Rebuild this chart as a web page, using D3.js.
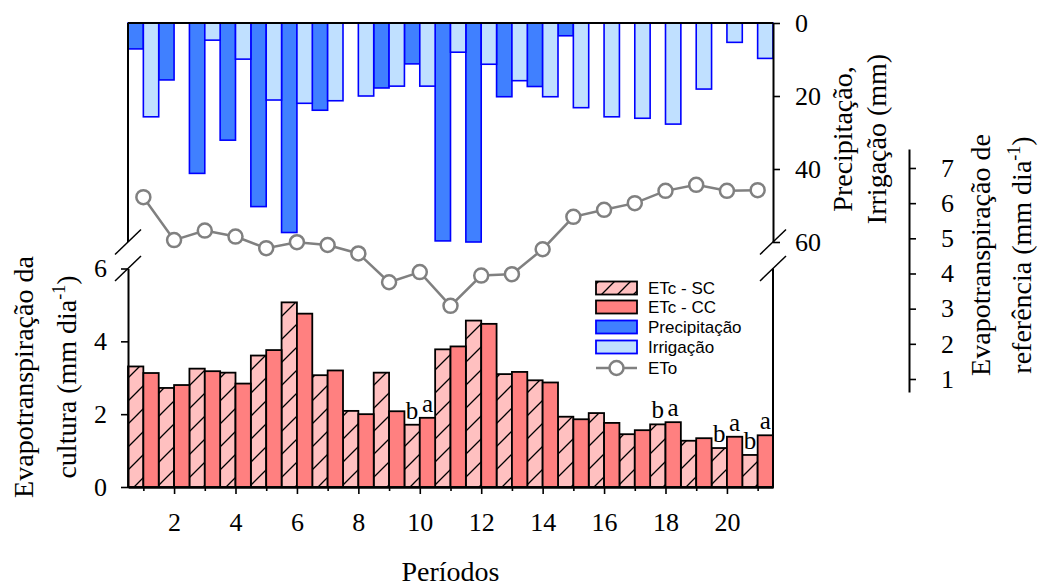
<!DOCTYPE html>
<html>
<head>
<meta charset="utf-8">
<script src="https://cdn.jsdelivr.net/npm/d3@7"></script>
<style>
  body { margin: 0; background: #fff; }
  svg text { font-family: "Liberation Serif", "Times New Roman", serif; fill: #000; }
  .legend text { font-family: "Liberation Sans", Arial, sans-serif; font-size: 17px; }
</style>
</head>
<body>
<div id="chart"></div>
<script>
// dados
const periods = d3.range(1, 22);
const precipitacao = [7.1, 15.6, 41.2, 32.1, 50.3, 57.4, 23.9, 0, 17.8, 11.2, 59.7, 60, 20.2, 17.4, 3.5, 0, 0, 0, 0, 0, 0];
const irrigacao = [25.7, 0, 4.7, 9.9, 21.1, 22.0, 21.3, 20.0, 17.3, 17.3, 8.0, 11.3, 15.8, 20.2, 23.2, 25.7, 26.1, 27.7, 18.1, 5.3, 9.7];
const eto = [6.17, 4.95, 5.22, 5.05, 4.72, 4.89, 4.81, 4.57, 3.75, 4.04, 3.08, 3.94, 3.98, 4.69, 5.61, 5.81, 6.0, 6.35, 6.52, 6.35, 6.37];
const etcSC = [3.31, 2.72, 3.25, 3.14, 3.61, 5.07, 3.07, 2.09, 3.14, 1.71, 3.78, 4.57, 3.10, 2.93, 1.93, 2.03, 1.45, 1.72, 1.27, 1.07, 0.88];
const etcCC = [3.13, 2.80, 3.18, 2.84, 3.76, 4.76, 3.20, 2.00, 2.08, 1.90, 3.86, 4.48, 3.16, 2.87, 1.86, 1.76, 1.56, 1.78, 1.34, 1.38, 1.42];
const letterPeriods = [10, 18, 20, 21];
const xTickLabels = [2, 4, 6, 8, 10, 12, 14, 16, 18, 20];
const rainTicks = [0, 20, 40, 60];
const etcTicks = [0, 2, 4, 6];
const etoTicks = [1, 2, 3, 4, 5, 6, 7];
const legendLabels = ['ETc - SC', 'ETc - CC', 'Precipitação', 'Irrigação', 'ETo'];

const width = 1040;
const height = 586;
const left = 128, right = 773;

const svg = d3.select('#chart').append('svg')
    .attr('width', width)
    .attr('height', height);

const x = d3.scaleLinear().domain([0.5, 21.5]).range([left, right]);
const yRain = d3.scaleLinear().domain([0, 60]).range([23, 242]);
const yEtc = d3.scaleLinear().domain([0, 6]).range([487, 268.5]);
const yEto = d3.scaleLinear().domain([0.63, 7.54]).range([392, 149]);

const colors = {
    sc: '#FFC0C0', cc: '#FF8080', rain: '#4080FF', irr: '#C0E0FF', blue: '#0000FF', eto: '#808080'
};

// hachura
const defs = svg.append('defs');
function hatch(id, s) {
    const p = defs.append('pattern')
        .attr('id', id)
        .attr('patternUnits', 'userSpaceOnUse')
        .attr('width', s).attr('height', s);
    p.append('rect').attr('width', s).attr('height', s).attr('fill', colors.sc);
    p.append('path')
        .attr('d', `M0,${s} L${s},0 M${-s / 2},${s / 2} L${s / 2},${-s / 2} M${s / 2},${s * 1.5} L${s * 1.5},${s / 2}`)
        .attr('stroke', '#000').attr('stroke-width', 1.3);
}
hatch('hatchBar', 23);
hatch('hatchLeg', 16);

// barras de cima
const rainData = periods.map((p, i) => ({ p, v: precipitacao[i] })).filter(d => d.v > 0);
const irrData = periods.map((p, i) => ({ p, v: irrigacao[i] })).filter(d => d.v > 0);

svg.selectAll('.rain').data(rainData).enter().append('rect')
    .attr('x', d => x(d.p - 0.5))
    .attr('y', yRain(0))
    .attr('width', d => x(d.p) - x(d.p - 0.5))
    .attr('height', d => yRain(d.v) - yRain(0))
    .attr('fill', colors.rain).attr('stroke', colors.blue).attr('stroke-width', 1.6);

svg.selectAll('.irr').data(irrData).enter().append('rect')
    .attr('x', d => x(d.p))
    .attr('y', yRain(0))
    .attr('width', d => x(d.p + 0.5) - x(d.p))
    .attr('height', d => yRain(d.v) - yRain(0))
    .attr('fill', colors.irr).attr('stroke', colors.blue).attr('stroke-width', 1.6);

// barras de baixo
svg.selectAll('.sc').data(periods).enter().append('rect')
    .attr('x', p => x(p - 0.5))
    .attr('y', (p, i) => yEtc(etcSC[i]))
    .attr('width', p => x(p) - x(p - 0.5))
    .attr('height', (p, i) => yEtc(0) - yEtc(etcSC[i]))
    .attr('fill', 'url(#hatchBar)').attr('stroke', '#000').attr('stroke-width', 1.8);

svg.selectAll('.cc').data(periods).enter().append('rect')
    .attr('x', p => x(p))
    .attr('y', (p, i) => yEtc(etcCC[i]))
    .attr('width', p => x(p + 0.5) - x(p))
    .attr('height', (p, i) => yEtc(0) - yEtc(etcCC[i]))
    .attr('fill', colors.cc).attr('stroke', '#000').attr('stroke-width', 1.8);

// letras
letterPeriods.forEach(p => {
    const i = p - 1;
    svg.append('text')
        .attr('x', x(p - 0.25)).attr('y', yEtc(etcSC[i]) - 6)
        .attr('text-anchor', 'middle').style('font-size', '25px').text('b');
    svg.append('text')
        .attr('x', x(p + 0.25)).attr('y', yEtc(etcCC[i]) - 6)
        .attr('text-anchor', 'middle').style('font-size', '25px').text('a');
});

// ETo
svg.append('path')
    .datum(eto)
    .attr('fill', 'none').attr('stroke', colors.eto).attr('stroke-width', 2.5)
    .attr('d', d3.line().x((d, i) => x(periods[i])).y(d => yEto(d)));

svg.selectAll('.eto').data(eto).enter().append('circle')
    .attr('cx', (d, i) => x(periods[i]))
    .attr('cy', d => yEto(d))
    .attr('r', 7)
    .attr('fill', '#fff').attr('stroke', colors.eto).attr('stroke-width', 2.5);

// eixos
function styleAxis(g) {
    g.attr('font-family', null).attr('font-size', null);
    g.select('.domain').attr('stroke', '#000').attr('stroke-width', 2);
    g.selectAll('.tick line').attr('stroke', '#000').attr('stroke-width', 1.6);
    g.selectAll('.tick text')
        .attr('fill', '#000')
        .style('font-family', '"Liberation Serif", "Times New Roman", serif')
        .style('font-size', '26px');
}

const fmt = d3.format('d');

const frame = svg.append('g').attr('stroke', '#000').attr('stroke-width', 2);
frame.append('line').attr('x1', left).attr('x2', right).attr('y1', yRain(0)).attr('y2', yRain(0));
frame.append('line').attr('x1', left).attr('x2', left).attr('y1', yRain(0)).attr('y2', yRain(60));
frame.append('line').attr('x1', right).attr('x2', right).attr('y1', yEtc(6)).attr('y2', yEtc(0));

svg.append('g')
    .attr('transform', `translate(${right},0)`)
    .call(d3.axisRight(yRain).tickValues(rainTicks).tickFormat(fmt).tickSize(7).tickSizeOuter(0).tickPadding(15))
    .call(styleAxis);

svg.append('g')
    .attr('transform', `translate(${left},0)`)
    .call(d3.axisLeft(yEtc).tickValues(etcTicks).tickFormat(fmt).tickSize(7).tickSizeOuter(0).tickPadding(14))
    .call(styleAxis);

svg.append('g')
    .attr('transform', `translate(0,${yEtc(0)})`)
    .call(d3.axisBottom(x).tickValues(periods.filter(p => p % 2 === 1)).tickSize(4).tickSizeOuter(0).tickFormat(''))
    .call(styleAxis);

svg.append('g')
    .attr('transform', `translate(0,${yEtc(0)})`)
    .call(d3.axisBottom(x).tickValues(xTickLabels).tickFormat(fmt).tickSize(7).tickSizeOuter(0).tickPadding(19))
    .call(styleAxis);

svg.append('g')
    .attr('transform', 'translate(909,0)')
    .call(d3.axisRight(yEto).tickValues(etoTicks).tickFormat(fmt).tickSize(7).tickSizeOuter(0).tickPadding(25))
    .call(styleAxis);

// quebras
[left, right].forEach(cx => {
    [yRain(60), yEtc(6)].forEach(cy => {
        svg.append('line')
            .attr('x1', cx - 13).attr('y1', cy + 12.5)
            .attr('x2', cx + 13).attr('y2', cy - 12.5)
            .attr('stroke', '#000').attr('stroke-width', 1.5);
    });
});

// títulos
function vTitle(tx, ty, parts) {
    const t = svg.append('text')
        .attr('transform', `translate(${tx},${ty}) rotate(-90)`)
        .attr('text-anchor', 'middle')
        .style('font-size', '28px');
    parts.forEach(pt => {
        const s = t.append('tspan').text(pt.t);
        if (pt.sup) s.style('font-size', '18px').attr('dy', -11);
        if (pt.down) s.attr('dy', 11);
    });
}

vTitle(33, 377, [{ t: 'Evapotranspiração da' }]);
vTitle(76, 377, [{ t: 'cultura (mm dia' }, { t: '-1', sup: true }, { t: ')', down: true }]);
vTitle(852, 139, [{ t: 'Precipitação,' }]);
vTitle(886, 139, [{ t: 'Irrigação (mm)' }]);
vTitle(990, 255, [{ t: 'Evapotranspiração de' }]);
vTitle(1031, 255, [{ t: 'referência (mm dia' }, { t: '-1', sup: true }, { t: ')', down: true }]);

svg.append('text')
    .attr('x', (left + right) / 2).attr('y', 581)
    .attr('text-anchor', 'middle')
    .style('font-size', '28px')
    .text('Períodos');

// legenda
const legend = svg.append('g').classed('legend', true);
const rowY = [288, 307, 327, 347, 368];
const swatches = [
    { fill: 'url(#hatchLeg)', stroke: '#000' },
    { fill: colors.cc, stroke: '#000' },
    { fill: colors.rain, stroke: colors.blue },
    { fill: colors.irr, stroke: colors.blue }
];
swatches.forEach((s, i) => {
    legend.append('rect')
        .attr('x', 596).attr('y', rowY[i] - 6.5)
        .attr('width', 41).attr('height', 13)
        .attr('fill', s.fill).attr('stroke', s.stroke).attr('stroke-width', 1.8);
});
legend.append('line')
    .attr('x1', 596).attr('x2', 637).attr('y1', rowY[4]).attr('y2', rowY[4])
    .attr('stroke', colors.eto).attr('stroke-width', 2.5);
legend.append('circle')
    .attr('cx', 616.5).attr('cy', rowY[4]).attr('r', 7)
    .attr('fill', '#fff').attr('stroke', colors.eto).attr('stroke-width', 2.5);
legendLabels.forEach((lab, i) => {
    legend.append('text')
        .attr('x', 648).attr('y', rowY[i])
        .attr('dy', '0.36em')
        .text(lab);
});
</script>
</body>
</html>
